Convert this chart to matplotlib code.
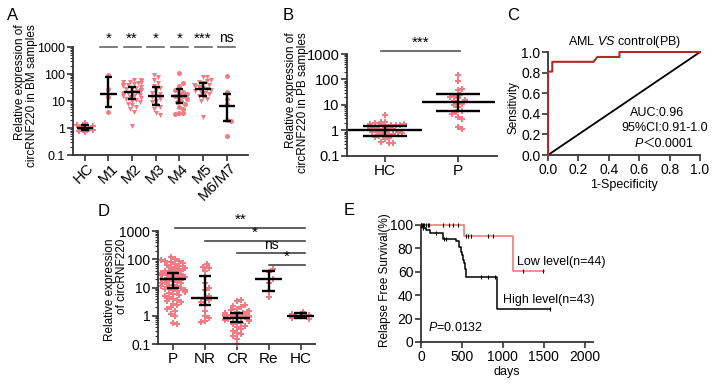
import matplotlib
matplotlib.use("Agg")
import matplotlib.pyplot as plt
import matplotlib.transforms as mtrans
import numpy as np

plt.rcParams['font.family'] = ['Liberation Sans', 'DejaVu Sans']
plt.rcParams['mathtext.fontset'] = 'custom'
plt.rcParams['mathtext.rm'] = 'Liberation Sans'
plt.rcParams['mathtext.it'] = 'Liberation Sans:italic'

PINK = "#f07c86"
ROC_RED = "#b3282b"
KM_RED = "#f07070"
AX_COL = "#333333"

# ---- panel A: BM samples by FAB subtype
a_groups = ["HC", "M1", "M2", "M3", "M4", "M5", "M6/M7"]
a_values = [
    [1.5, 1.3, 1.2, 1.1, 1.0, 0.95, 0.85, 0.8, 0.7],
    [90, 28, 14, 3.8],
    [60, 58, 55, 52, 50, 48, 45, 42, 40, 38, 35, 33, 31, 30, 28, 26, 25, 24, 22, 21,
     20, 19, 18, 17, 16, 15, 14, 13, 12, 11, 10, 9, 8, 7, 6, 5, 4, 1.2],
    [90, 80, 60, 45, 35, 30, 25, 20, 18, 16, 14, 12, 10, 9, 7, 6, 5, 3.5, 3],
    [110, 45, 35, 25, 22, 20, 18, 16, 15, 14, 12, 10, 9, 8, 6, 5, 3.5, 3.5, 3.3],
    [80, 75, 60, 55, 50, 45, 40, 38, 35, 32, 30, 28, 26, 24, 22, 20, 18, 16, 14, 12, 10, 2.5],
    [85, 22, 12, 8, 2.0, 1.8, 0.5],
]
a_center = [1.0, 18, 21, 16, 15, 27, 6.5]
a_low = [0.82, 6, 12, 7, 8.5, 15, 1.8]
a_high = [1.25, 80, 33, 32, 27, 45, 18]
a_markers = ["P", "o", "v", "v", "o", "v", "o"]
a_sig = ["", "*", "**", "*", "*", "***", "ns"]

# ---- panel B: PB samples
b_groups = ["HC", "P"]
b_values = [
    [4.1, 2.2, 2.2, 1.9, 1.8, 1.8, 1.7, 1.7, 1.6, 1.5, 1.5, 1.4, 1.3, 1.2, 1.1, 1.0, 1.0,
     0.95, 0.9, 0.9, 0.85, 0.8, 0.75, 0.7, 0.65, 0.6, 0.55, 0.5, 0.45, 0.35, 0.33, 0.33],
    [150, 88, 41, 40, 25, 22, 20, 18, 16, 15, 12, 11, 10, 8, 6, 5.5, 4.5, 3.5, 2.8, 1.4, 1.1],
]
b_center = [1.0, 13]
b_low = [0.62, 5.6]
b_high = [1.5, 27]

# ---- panel C: ROC
roc_fpr = [0, 0, 0.028, 0.028, 0.30, 0.324, 0.47, 0.47, 1.0]
roc_tpr = [0, 0.81, 0.81, 0.905, 0.905, 0.952, 0.952, 1.0, 1.0]

# ---- panel D: by treatment status
d_groups = ["P", "NR", "CR", "Re", "HC"]
d_values = [
    [120, 100, 95, 90, 85, 80, 75, 70, 65, 60, 55, 50, 48, 45, 42, 40, 38, 35, 33, 31, 30,
     28, 27, 25, 24, 23, 22, 21, 20, 19, 18, 17, 16, 15, 14, 13, 12, 11.5, 11, 10, 9.5, 9,
     8.5, 8, 7.5, 7, 6.5, 6, 5.5, 5, 4.5, 4, 3.6, 3.3, 3.0, 2.7, 2.4, 2.0, 1.8, 1.5, 1.2,
     1.0, 0.55, 0.5],
    [70, 55, 50, 40, 25, 15, 10, 8, 5, 4, 3.5, 3, 2.5, 1.5, 1.0, 0.8, 0.65, 0.6],
    [3.5, 3.2, 2.5, 2.3, 2.0, 1.8, 1.6, 1.5, 1.4, 1.3, 1.25, 1.2, 1.15, 1.1, 1.05, 1.0,
     0.95, 0.9, 0.88, 0.85, 0.82, 0.8, 0.78, 0.75, 0.72, 0.7, 0.68, 0.65, 0.6, 0.55, 0.5,
     0.45, 0.4, 0.35, 0.3, 0.25, 0.22, 0.2, 0.15, 0.1],
    [45, 35, 20, 15, 7.5, 4.5],
    [1.4, 1.2, 1.1, 1.0, 1.0, 0.95, 0.85, 0.75],
]
d_center = [20, 4.2, 0.85, 20, 1.0]
d_low = [10, 2.5, 0.6, 7.5, 0.85]
d_high = [32, 25, 1.3, 37, 1.25]
d_sig_start = [0, 1, 2, 3]
d_sig_level = [1260, 450, 166, 63]
d_sig_text = ["**", "*", "ns", "*"]

# ---- panel E: Kaplan-Meier
low_t = [0, 520, 1120, 1500]
low_s = [100, 90.9, 61.0, 61.0]
low_cens = [5, 20, 40, 60, 80, 100, 270, 340, 390, 450, 550, 575, 610, 815, 875, 1245, 1490]
high_t = [0, 20, 60, 110, 270, 430, 470, 490, 500, 510, 525, 540, 555, 930, 1570]
high_s = [100, 97.7, 95.3, 93.0, 88.4, 86.0, 81.4, 76.7, 74.4, 69.8, 67.4, 62.8, 55.8, 27.9, 27.9]
high_cens = [5, 15, 30, 183, 285, 300, 730, 815, 900, 1570]


def style(ax, ysize=10, xsize=11):
    for s in ["top", "right"]:
        ax.spines[s].set_visible(False)
    for s in ["left", "bottom"]:
        ax.spines[s].set_linewidth(1.3)
        ax.spines[s].set_color(AX_COL)
    ax.tick_params(which="major", length=4, width=1.2, color=AX_COL, pad=1.5)
    ax.tick_params(which="minor", length=2, width=0.8, color=AX_COL)
    ax.tick_params(axis="y", labelsize=ysize)
    ax.tick_params(axis="x", labelsize=xsize)


def log_axis(ax):
    ax.set_yscale("log")
    ax.set_ylim(0.1, 1000)
    ax.set_yticks([0.1, 1, 10, 100, 1000])
    ax.set_yticklabels(["0.1", "1", "10", "100", "1000"])


def swarm(ax, xpos, values, d=4.2, maxw=14):
    # simple beeswarm in pixel space
    vals = np.asarray(values, float)
    trans = ax.transData
    pts = trans.transform(np.column_stack([np.full(len(vals), xpos), vals]))
    x0 = pts[0, 0]
    cands = [0.0]
    for k in range(1, 60):
        cands += [k * d * 0.5, -k * d * 0.5]
    placed = []
    offs = np.zeros(len(vals))
    med = np.median(np.log10(vals))
    for i in np.argsort(np.abs(np.log10(vals) - med)):
        y = pts[i, 1]
        chosen = None
        for c in cands:
            if abs(c) > maxw:
                continue
            if all((c - px) ** 2 + (y - py) ** 2 >= d * d for px, py in placed):
                chosen = c
                break
        if chosen is None:
            chosen = maxw if len(placed) % 2 else -maxw
        placed.append((chosen, y))
        offs[i] = chosen
    return trans.inverted().transform(np.column_stack([x0 + offs, pts[:, 1]]))[:, 0]


def errbar(ax, x, c, lo, hi, hw=0.34, cw=0.16):
    kw = dict(color="black", lw=1.7, solid_capstyle="butt", zorder=3)
    ax.plot([x - hw, x + hw], [c, c], **kw)
    ax.plot([x, x], [lo, hi], **kw)
    ax.plot([x - cw, x + cw], [lo, lo], **kw)
    ax.plot([x - cw, x + cw], [hi, hi], **kw)


def step_at(t, times, surv):
    idx = np.searchsorted(times, t, side="right") - 1
    return surv[max(idx, 0)]


fig = plt.figure(figsize=(7.25, 3.86), dpi=100)

# ---------------- A
axA = fig.add_axes([0.1007, 0.5984, 0.2414, 0.2798])
style(axA, ysize=9, xsize=11)
log_axis(axA)
axA.set_xlim(-0.5, 6.9)
axA.set_xticks(range(len(a_groups)))
axA.set_xticklabels(a_groups, rotation=45, ha="right", va="center", rotation_mode="anchor")
shift = mtrans.ScaledTranslation(7 / 100, -3 / 100, fig.dpi_scale_trans)
for lab in axA.get_xticklabels():
    lab.set_transform(lab.get_transform() + shift)
for i, vals in enumerate(a_values):
    xs = swarm(axA, i, vals, d=4.0, maxw=9)
    axA.scatter(xs, vals, s=13, marker=a_markers[i], color=PINK, linewidths=0, zorder=2, clip_on=False)
    errbar(axA, i, a_center[i], a_low[i], a_high[i])
    if a_sig[i]:
        axA.plot([i - 0.36, i + 0.36], [1000, 1000], color="#666666", lw=1.2, clip_on=False)
        axA.text(i, 1150, a_sig[i], ha="center", va="bottom", fontsize=10 if a_sig[i] == "ns" else 11)
axA.set_ylabel("Relative expression of\ncircRNF220 in BM samples", fontsize=8.5,
               linespacing=1.05, multialignment="right")
axA.yaxis.set_label_coords(-0.2, 0.55)

# ---------------- B
axB = fig.add_axes([0.4786, 0.5959, 0.2069, 0.2642])
style(axB, ysize=10.5, xsize=11)
log_axis(axB)
axB.set_xlim(-0.52, 1.53)
axB.set_xticks(range(len(b_groups)))
axB.set_xticklabels(b_groups)
for i, vals in enumerate(b_values):
    xs = swarm(axB, i, vals, d=4.2, maxw=26)
    axB.scatter(xs, vals, s=14, marker="P", color=PINK, linewidths=0, zorder=2, clip_on=False)
    errbar(axB, i, b_center[i], b_low[i], b_high[i], hw=0.5, cw=0.3)
axB.plot([-0.05, 1.02], [1350, 1350], color="#555555", lw=1.2, clip_on=False)
axB.text(0.48, 1500, "***", ha="center", va="bottom", fontsize=11)
axB.set_ylabel("Relative expression of\ncircRNF220 in PB samples", fontsize=8.5,
               linespacing=1.05, multialignment="right")
axB.yaxis.set_label_coords(-0.25, 0.525)

# ---------------- C
axC = fig.add_axes([0.7559, 0.5984, 0.2097, 0.2668])
style(axC, ysize=10, xsize=10)
axC.set_xlim(0, 1)
axC.set_ylim(0, 1)
ticks = [0, 0.2, 0.4, 0.6, 0.8, 1.0]
axC.set_xticks(ticks)
axC.set_yticks(ticks)
axC.set_xticklabels([f"{t:.1f}" for t in ticks])
axC.set_yticklabels([f"{t:.1f}" for t in ticks])
axC.plot([0, 1], [0, 1], color="black", lw=1.3, zorder=2)
axC.plot(roc_fpr, roc_tpr, color=ROC_RED, lw=1.5, zorder=3, clip_on=False)
axC.set_title("AML $\\mathit{VS}$ control(PB)", fontsize=9, pad=5)
axC.set_xlabel("1-Specificity", fontsize=9, labelpad=2)
axC.set_ylabel("Sensitivity", fontsize=8.5)
axC.yaxis.set_label_coords(-0.19, 0.46)
axC.text(0.72, 0.41, "AUC:0.96", ha="center", va="center", fontsize=9, transform=axC.transAxes)
axC.text(0.77, 0.26, "95%CI:0.91-1.0", ha="center", va="center", fontsize=9, transform=axC.transAxes)
axC.text(0.625, 0.105, "P", ha="right", va="center", fontsize=9, style="italic", transform=axC.transAxes)
axC.text(0.625, 0.105, "\uff1c0.0001", ha="left", va="center", fontsize=9,
         family=["Liberation Sans", "Noto Sans CJK SC"], transform=axC.transAxes)

# ---------------- D
axD = fig.add_axes([0.2179, 0.1088, 0.2166, 0.2927])
style(axD, ysize=10, xsize=11)
log_axis(axD)
axD.set_xlim(-0.47, 4.45)
axD.set_xticks(range(len(d_groups)))
axD.set_xticklabels(d_groups)
for i, vals in enumerate(d_values):
    xs = swarm(axD, i, vals, d=4.2, maxw=12)
    axD.scatter(xs, vals, s=14, marker="P", color=PINK, linewidths=0, zorder=2, clip_on=False)
    errbar(axD, i, d_center[i], d_low[i], d_high[i], hw=0.42, cw=0.2)
for st, lev, txt in zip(d_sig_start, d_sig_level, d_sig_text):
    x0 = st + (0.06 if st == 0 else 0.0)
    axD.plot([x0, 4.15], [lev, lev], color="#333333", lw=1.1, clip_on=False)
    axD.text((x0 + 4.15) / 2, lev * 1.08, txt, ha="center", va="bottom",
             fontsize=10 if txt == "ns" else 11)
axD.set_ylabel("Relative expression\nof circRNF220", fontsize=8.5, linespacing=1.05,
               multialignment="right")
axD.yaxis.set_label_coords(-0.19, 0.478)

# ---------------- E
axE = fig.add_axes([0.5807, 0.1140, 0.2372, 0.3031])
style(axE, ysize=10, xsize=10)
axE.set_xlim(0, 2100)
axE.set_ylim(0, 100)
axE.set_xticks([0, 500, 1000, 1500, 2000])
axE.set_yticks([0, 20, 40, 60, 80, 100])
axE.step(high_t, high_s, where="post", color="black", lw=1.1, clip_on=False, zorder=3)
axE.step(low_t, low_s, where="post", color=KM_RED, lw=1.1, clip_on=False, zorder=4)
axE.scatter(high_cens, [step_at(t, high_t, high_s) for t in high_cens], marker="|",
            s=12, color="black", linewidths=0.8, clip_on=False, zorder=5)
axE.scatter(low_cens, [step_at(t, low_t, low_s) for t in low_cens], marker="|",
            s=12, color="black", linewidths=0.8, clip_on=False, zorder=5)
axE.text(1175, 68, "Low level(n=44)", fontsize=9, ha="left", va="center")
axE.text(1000, 36, "High level(n=43)", fontsize=9, ha="left", va="center")
axE.text(90, 12, "$\\mathit{P}$=0.0132", fontsize=9, ha="left", va="center")
axE.set_xlabel("days", fontsize=9, labelpad=2)
axE.set_ylabel("Relapse Free Survival(%)", fontsize=8.5)
axE.yaxis.set_label_coords(-0.175, 0.53)

# panel letters
for lab, x, y in [("A", 13, 15), ("B", 288, 15), ("C", 513, 15), ("D", 104, 212), ("E", 349, 210)]:
    fig.text(x / 725, 1 - y / 386, lab, fontsize=12, ha="center", va="center")

fig.savefig("out.png", dpi=100)
